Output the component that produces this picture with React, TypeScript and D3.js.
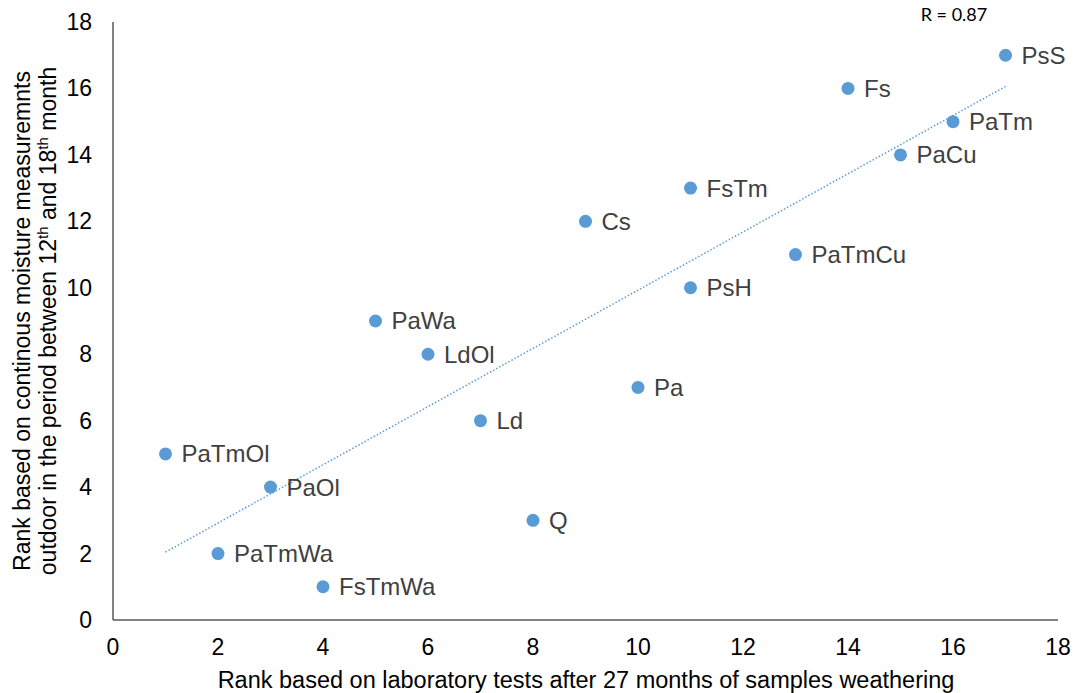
import React from 'react';
import * as d3 from 'd3';

// sample codes and their two ranks
const names = ['PsS', 'Fs', 'PaTm', 'PaCu', 'FsTm', 'Cs', 'PaTmCu', 'PsH', 'PaWa', 'LdOl', 'Pa', 'Ld', 'PaTmOl', 'PaOl', 'Q', 'PaTmWa', 'FsTmWa'];
const labRank = [17, 14, 16, 15, 11, 9, 13, 11, 5, 6, 10, 7, 1, 3, 8, 2, 4];
const outdoorRank = [17, 16, 15, 14, 13, 12, 11, 10, 9, 8, 7, 6, 5, 4, 3, 2, 1];
const xTicks = [0, 2, 4, 6, 8, 10, 12, 14, 16, 18];
const yTicks = [0, 2, 4, 6, 8, 10, 12, 14, 16, 18];

export default function App() {
  const width = 1075;
  const height = 693;
  const margin = { top: 22, right: 17, bottom: 73, left: 113 };

  const xScale = d3.scaleLinear().domain([0, 18]).range([margin.left, width - margin.right]);
  const yScale = d3.scaleLinear().domain([0, 18]).range([height - margin.bottom, margin.top]);

  // least squares trendline through the points
  const mx = d3.mean(labRank) as number;
  const my = d3.mean(outdoorRank) as number;
  const sxy = d3.sum(labRank, (x, i) => (x - mx) * (outdoorRank[i] - my));
  const sxx = d3.sum(labRank, (x) => (x - mx) * (x - mx));
  const slope = sxy / sxx;
  const icept = my - slope * mx;
  const [x0, x1] = d3.extent(labRank) as [number, number];
  const trend = d3.line<number>()
    .x((d) => xScale(d))
    .y((d) => yScale(icept + slope * d));

  const font = '"Liberation Sans", Arial, sans-serif';

  return (
    <svg width={width} height={height} style={{ position: 'absolute', left: 0, top: 0, background: '#fff' }} fontFamily={font}>
      {/* axes */}
      <line x1={xScale(0)} x2={xScale(18)} y1={yScale(0)} y2={yScale(0)} stroke="#595959" strokeWidth={1.3} />
      <line x1={xScale(0)} x2={xScale(0)} y1={yScale(0)} y2={yScale(18)} stroke="#404040" strokeWidth={1.3} />

      {xTicks.map((t) => (
        <text key={'x' + t} x={xScale(t)} y={yScale(0) + 35} textAnchor="middle" fontSize={23} fill="#000">{t}</text>
      ))}
      {yTicks.map((t) => (
        <text key={'y' + t} x={xScale(0) - 21} y={yScale(t)} dy="0.35em" textAnchor="end" fontSize={23} fill="#000">{t}</text>
      ))}

      <path d={trend([x0, x1]) || ''} fill="none" stroke="#5b9bd5" strokeWidth={1.5} strokeDasharray="1.5 2" />

      {names.map((n, i) => (
        <g key={n}>
          <circle cx={xScale(labRank[i])} cy={yScale(outdoorRank[i])} r={6.5} fill="#5b9bd5" />
          <text x={xScale(labRank[i]) + 16} y={yScale(outdoorRank[i])} dy="0.35em" fontSize={24} fill="#404040">{n}</text>
        </g>
      ))}

      <text x={954} y={21} textAnchor="middle" fontSize={18} fill="#000" fontFamily="Lato, 'Open Sans', sans-serif">R = 0.87</text>

      <text x={586} y={688} textAnchor="middle" fontSize={23.5} fill="#000">Rank based on laboratory tests after 27 months of samples weathering</text>

      <g transform={`translate(0, ${yScale(9)}) rotate(-90)`}>
        <text x={0} y={30} textAnchor="middle" fontSize={23} fill="#000">Rank based on continous moisture measuremnts</text>
        <text x={0} y={56} textAnchor="middle" fontSize={23} fill="#000">
          outdoor in the period between 12<tspan fontSize={15} dy={-8}>th</tspan><tspan dy={8}> and 18</tspan><tspan fontSize={15} dy={-8}>th</tspan><tspan dy={8}>  month</tspan>
        </text>
      </g>
    </svg>
  );
}
